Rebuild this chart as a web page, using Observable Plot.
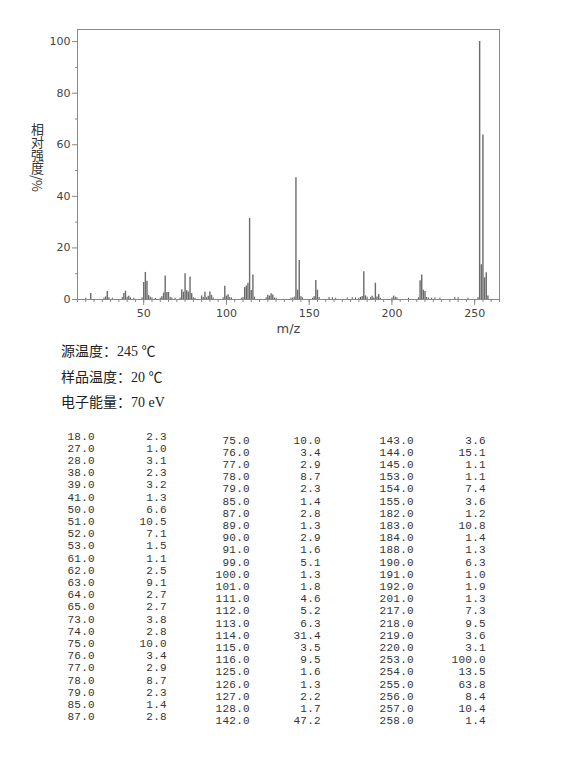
<!DOCTYPE html>
<html><head><meta charset="utf-8">
<script src="https://cdn.jsdelivr.net/npm/d3@7"></script>
<script src="https://cdn.jsdelivr.net/npm/@observablehq/plot@0.6"></script>
<style>
body{margin:0;background:#fff;}
#wrap{position:relative;width:570px;height:773px;overflow:hidden;}
#wrap svg{position:absolute;left:0;top:0;}
.ylab{position:absolute;left:31px;top:123px;writing-mode:vertical-rl;font-family:"Noto Sans CJK SC",sans-serif;font-size:13px;line-height:13px;color:#333;}
.info{position:absolute;left:61px;font-family:"Liberation Serif","Noto Sans CJK SC",serif;font-size:14px;color:#222;line-height:16px;}
.cell{position:absolute;font-family:"Liberation Mono","DejaVu Sans Mono",monospace;font-size:11px;line-height:11px;height:11px;color:#333;text-align:right;white-space:pre;letter-spacing:0.3px;}
</style></head><body><div id="wrap"></div>
<script>
// Table columns (as printed)
const col1Mz  = [18,27,28,38,39,41,50,51,52,53,61,62,63,64,65,73,74,75,76,77,78,79,85,87];
const col1Int = [2.3,1.0,3.1,2.3,3.2,1.3,6.6,10.5,7.1,1.5,1.1,2.5,9.1,2.7,2.7,3.8,2.8,10.0,3.4,2.9,8.7,2.3,1.4,2.8];
const col2Mz  = [75,76,77,78,79,85,87,89,90,91,99,100,101,111,112,113,114,115,116,125,126,127,128,142];
const col2Int = [10.0,3.4,2.9,8.7,2.3,1.4,2.8,1.3,2.9,1.6,5.1,1.3,1.8,4.6,5.2,6.3,31.4,3.5,9.5,1.6,1.3,2.2,1.7,47.2];
const col3Mz  = [143,144,145,153,154,155,182,183,184,188,190,191,192,201,217,218,219,220,253,254,255,256,257,258];
const col3Int = [3.6,15.1,1.1,1.1,7.4,3.6,1.2,10.8,1.4,1.3,6.3,1.0,1.9,1.3,7.3,9.5,3.6,3.1,100.0,13.5,63.8,8.4,10.4,1.4];
// Minor peaks (<1%) visible along the baseline, estimated
const minorMz  = [15,26,29,31,37,40,42,44,49,54,55,57,60,66,67,69,72,80,81,86,88,92,98,102,103,109,110,117,124,129,130,139,140,141,146,152,156,162,164,166,173,176,178,180,181,185,187,189,193,200,202,203,210,216,221,222,224,226,229,238,240,246,252];
const minorInt = [0.5,0.6,0.7,0.5,0.8,0.9,0.6,0.5,0.7,0.9,0.6,0.4,0.5,0.8,0.6,0.5,0.6,0.7,0.5,0.8,0.7,0.6,0.7,0.8,0.6,0.5,0.8,0.9,0.7,0.6,0.5,0.5,0.6,0.9,0.6,0.5,0.8,0.8,0.7,0.5,0.6,0.7,0.6,0.5,0.8,0.9,0.7,0.6,0.5,0.6,0.9,0.7,0.5,0.7,0.8,0.6,0.5,0.6,0.5,0.8,0.7,0.5,0.8];
const xTicks = [50,100,150,200,250];
const yTicks = [0,20,40,60,80,100];
const infoLines = ["源温度：245 ℃","样品温度：20 ℃","电子能量：70 eV"];

const seen = new Map();
[[col1Mz,col1Int],[col2Mz,col2Int],[col3Mz,col3Int]].forEach(([m,v]) => m.forEach((d,i) => seen.set(d, v[i])));
const peaks = Array.from(seen, ([mz,int]) => ({mz,int}));
const minor = minorMz.map((mz,i) => ({mz, int: minorInt[i]}));

const chart = Plot.plot({
  width: 570, height: 340,
  marginLeft: 77, marginRight: 71, marginTop: 29, marginBottom: 41,
  style: {fontFamily: "'DejaVu Sans', Verdana, sans-serif", fontSize: "11px", color: "#444", background: "#fff"},
  x: {domain: [10, 265]},
  y: {domain: [0, 104.7]},
  marks: [
    Plot.ruleX(minor, {x: "mz", y1: 0, y2: "int", stroke: "#555", strokeWidth: 1}),
    Plot.ruleX(peaks, {x: "mz", y1: 0, y2: "int", stroke: "#6a6a6a", strokeWidth: 1.4}),
    Plot.frame({stroke: "#888"}),
    Plot.axisY(yTicks, {tickSize: 5, tickPadding: 2, stroke: "#888", label: null}),
    Plot.axisY(d3.range(10, 101, 20), {tickSize: 2, text: null, stroke: "#888", label: null}),
    Plot.axisX(xTicks, {tickSize: 6, tickPadding: 4, stroke: "#888", label: null}),
    Plot.axisX(d3.range(10, 266, 5), {tickSize: 3, text: null, stroke: "#888", label: null}),
    Plot.text(["m/z"], {frameAnchor: "bottom", dy: 33, fontSize: 13, fill: "#444"})
  ]
});
const wrap = document.getElementById("wrap");
wrap.appendChild(chart);

const yl = document.createElement("div");
yl.className = "ylab"; yl.textContent = "相对强度/%";
wrap.appendChild(yl);

infoLines.forEach((t,i) => {
  const d = document.createElement("div");
  d.className = "info"; d.textContent = t;
  d.style.top = (344 + i*25.5) + "px";
  wrap.appendChild(d);
});

function addCol(arr, right, top0) {
  arr.forEach((v,i) => {
    const d = document.createElement("div");
    d.className = "cell"; d.textContent = v.toFixed(1);
    d.style.left = (right - 60) + "px"; d.style.width = "60px";
    d.style.top = (top0 + i*12.2) + "px";
    wrap.appendChild(d);
  });
}
addCol(col1Mz, 95, 431.5);
addCol(col1Int, 167, 431.5);
addCol(col2Mz, 250, 435.5);
addCol(col2Int, 321, 435.5);
addCol(col3Mz, 414, 435.5);
addCol(col3Int, 486, 435.5);
</script>
</body></html>
